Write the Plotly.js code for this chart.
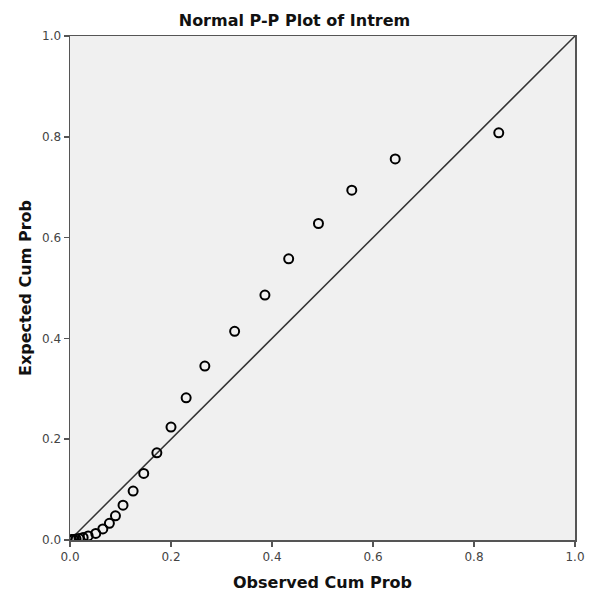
<!DOCTYPE html>
<html>
<head>
<meta charset="utf-8">
<script src="https://cdn.plot.ly/plotly-3.0.1.min.js"></script>
<style>html,body{margin:0;padding:0;background:#fff;}#chart{width:589px;height:598px;}</style>
</head>
<body>
<div id="chart"></div>
<script>
var observedCumProb = [0.003, 0.007, 0.012, 0.018, 0.026, 0.036, 0.051, 0.065, 0.078, 0.090, 0.105, 0.125, 0.146, 0.172, 0.200, 0.230, 0.267, 0.326, 0.386, 0.433, 0.492, 0.558, 0.644, 0.849];
var expectedCumProb = [0.001, 0.001, 0.002, 0.003, 0.005, 0.008, 0.013, 0.022, 0.033, 0.048, 0.069, 0.097, 0.132, 0.173, 0.224, 0.282, 0.345, 0.414, 0.486, 0.558, 0.628, 0.694, 0.756, 0.808];
var refLineX = [0, 1];
var refLineY = [0, 1];
var tickVals = [0, 0.2, 0.4, 0.6, 0.8, 1.0];
var tickText = ["0.0", "0.2", "0.4", "0.6", "0.8", "1.0"];

var font = "DejaVu Sans, Verdana, sans-serif";
var traces = [
  {x: refLineX, y: refLineY, mode: "lines", line: {color: "#333", width: 1.5}, hoverinfo: "skip", showlegend: false},
  {x: observedCumProb, y: expectedCumProb, mode: "markers", showlegend: false,
   marker: {symbol: "circle-open", size: 9, color: "#000", line: {color: "#000", width: 2}}}
];
var axisCommon = {
  range: [0, 1], tickvals: tickVals, ticktext: tickText, ticks: "outside", ticklen: 5, tickwidth: 1.5, tickcolor: "#555",
  showgrid: false, zeroline: false, showline: true, linecolor: "#555", linewidth: 1.5, mirror: true,
  tickfont: {family: font, size: 12, color: "#444"}, fixedrange: true
};
var layout = {
  width: 589, height: 598,
  margin: {l: 70, r: 14, t: 36, b: 58},
  paper_bgcolor: "#fff", plot_bgcolor: "#f0f0f0",
  title: {text: "<b>Normal P-P Plot of Intrem</b>", x: 0.5, xanchor: "center", yref: "container", y: 0.966, yanchor: "middle",
          font: {family: font, size: 16, color: "#111"}},
  xaxis: Object.assign({}, axisCommon, {title: {text: "<b>Observed Cum Prob</b>", font: {family: font, size: 16, color: "#111"}, standoff: 14}}),
  yaxis: Object.assign({}, axisCommon, {title: {text: "<b>Expected Cum Prob</b>", font: {family: font, size: 16, color: "#111"}, standoff: 6}})
};
Plotly.newPlot("chart", traces, layout, {displayModeBar: false, staticPlot: true});
</script>
</body>
</html>
